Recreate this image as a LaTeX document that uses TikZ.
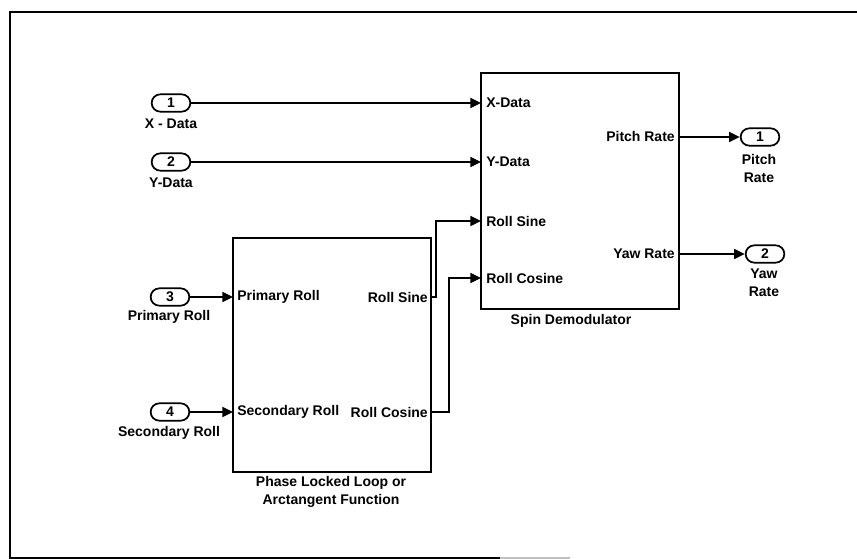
\documentclass[tikz,border=0pt]{standalone}
\usepackage{fontspec}
\setmainfont{Liberation Sans}
\usetikzlibrary{arrows.meta,calc}
\tikzset{
  lbl/.style={font=\bfseries\fontsize{10.5}{13.5}\selectfont, inner sep=0pt, align=center},
  port/.style={draw, line width=1.3pt, rounded corners=6.5pt, minimum width=29pt, minimum height=13pt, inner sep=0pt, font=\bfseries\fontsize{10.5}{12}\selectfont},
  blk/.style={draw, line width=1.2pt},
  sig/.style={line width=1.3pt, -{Triangle[length=8pt,width=7.5pt]}},
  wire/.style={line width=1.3pt},
  frm/.style={line width=1.8pt}
}
\begin{document}
\begin{tikzpicture}[x=0.75pt,y=-0.75pt]
\useasboundingbox (0,0) rectangle (857,559);
% frame
\coordinate (f1) at (10,12);
\coordinate (f2) at (857,12);
\coordinate (f3) at (10,558);
\coordinate (f4) at (500,558);
\coordinate (f5) at (570,558);
\draw[frm] (f2) -- (f1) -- (f3) -- (f4);
\draw[frm, black!25] (f4) -- (f5);

% blocks
\draw[blk] (481,73) rectangle (679,309);
\draw[blk] (233,238) rectangle (431,472);
\node[lbl] (sdname) at (571,321) {Spin Demodulator};
\node[lbl] (pllname) at (331,492) {Phase Locked Loop or\\Arctangent Function};

% spin demodulator ports
\coordinate (sdX) at (481,103);
\coordinate (sdY) at (481,162);
\coordinate (sdS) at (481,221);
\coordinate (sdC) at (481,278);
\coordinate (sdP) at (679,137);
\coordinate (sdW) at (679,254);
\node[lbl, anchor=west] (tX) at (486,103) {X-Data};
\node[lbl, anchor=west] (tY) at (486,162) {Y-Data};
\node[lbl, anchor=west] (tS) at (486,221) {Roll Sine};
\node[lbl, anchor=west] (tC) at (486,278) {Roll Cosine};
\node[lbl, anchor=east] (tP) at (675,137) {Pitch Rate};
\node[lbl, anchor=east] (tW) at (675,254) {Yaw Rate};

% PLL ports
\coordinate (plP) at (233,297);
\coordinate (plS) at (233,412);
\coordinate (plOS) at (431,297);
\coordinate (plOC) at (431,412);
\node[lbl, anchor=west] (tPR) at (237,297) {Primary Roll};
\node[lbl, anchor=west] (tSR) at (237,412) {Secondary Roll};
\node[lbl, anchor=east] (tRS) at (428,297) {Roll Sine};
\node[lbl, anchor=east] (tRC) at (428,412) {Roll Cosine};

% inports
\node[port] (in1) at (171,103) {1};
\node[lbl] (in1l) at (171,124) {X - Data};
\node[port] (in2) at (171,162) {2};
\node[lbl] (in2l) at (171,183) {Y-Data};
\node[port] (in3) at (170,297) {3};
\node[lbl] (in3l) at (169,317) {Primary Roll};
\node[port] (in4) at (170,412) {4};
\node[lbl] (in4l) at (169,433) {Secondary Roll};

% outports
\node[port] (out1) at (760,137) {1};
\node[lbl] (out1l) at (759,168) {Pitch\\Rate};
\node[port] (out2) at (765,254) {2};
\node[lbl] (out2l) at (764,283) {Yaw\\Rate};

% connectors
\draw[sig] (in1.east) -- (sdX);
\draw[sig] (in2.east) -- (sdY);
\draw[sig] (in3.east) -- (plP);
\draw[sig] (in4.east) -- (plS);
\draw[sig] (sdP) -- (out1.west);
\draw[sig] (sdW) -- (out2.west);
\coordinate (jS) at (436,297);
\coordinate (jC) at (449,412);
\draw[sig] (plOS) -- (jS) |- (sdS);
\draw[sig] (plOC) -- (jC) |- (sdC);
\end{tikzpicture}
\end{document}
